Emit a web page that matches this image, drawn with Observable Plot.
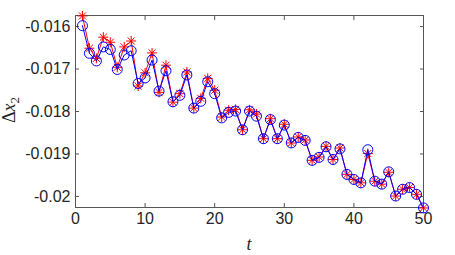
<!DOCTYPE html>
<html>
<head>
<meta charset="utf-8">
<script src="https://cdn.jsdelivr.net/npm/d3@7"></script>
<script src="https://cdn.jsdelivr.net/npm/@observablehq/plot@0.6"></script>
<style>
  html, body { margin: 0; padding: 0; background: #fff; }
  svg { display: block; }
</style>
</head>
<body>
<div id="chart"></div>
<script>
const t = [1,2,3,4,5,6,7,8,9,10,11,12,13,14,15,16,17,18,19,20,21,22,23,24,25,26,27,28,29,30,31,32,33,34,35,36,37,38,39,40,41,42,43,44,45,46,47,48,49,50];
const dx2Circle = [-0.01598,-0.01663,-0.01681,-0.01648,-0.01654,-0.01701,-0.01667,-0.01657,-0.01734,-0.01721,
  -0.01679,-0.01752,-0.01704,-0.01777,-0.01762,-0.01714,-0.01792,-0.01776,-0.01730,-0.01758,
  -0.01815,-0.01802,-0.01799,-0.01843,-0.01799,-0.01811,-0.01864,-0.01819,-0.01864,-0.01832,
  -0.01874,-0.01861,-0.01868,-0.01915,-0.01908,-0.01883,-0.01913,-0.01888,-0.01948,-0.01960,
  -0.01968,-0.01890,-0.01964,-0.01971,-0.01942,-0.01999,-0.01983,-0.01979,-0.01995,-0.02027];
const dx2Star = [-0.01575,-0.01651,-0.01675,-0.01625,-0.01637,-0.01696,-0.01648,-0.01634,-0.01740,-0.01709,
  -0.01662,-0.01755,-0.01691,-0.01778,-0.01758,-0.01707,-0.01792,-0.01769,-0.01722,-0.01750,
  -0.01813,-0.01797,-0.01795,-0.01843,-0.01796,-0.01806,-0.01864,-0.01817,-0.01864,-0.01830,
  -0.01874,-0.01860,-0.01867,-0.01915,-0.01907,-0.01882,-0.01913,-0.01886,-0.01948,-0.01960,
  -0.01968,-0.01899,-0.01964,-0.01971,-0.01943,-0.01999,-0.01983,-0.01979,-0.01995,-0.02027];
const xTicks = [0,10,20,30,40,50];
const yTicks = [-0.016,-0.017,-0.018,-0.019,-0.02];
const yTickLabels = ["-0.016","-0.017","-0.018","-0.019","-0.02"];

const circles = t.map((v, i) => ({t: v, y: dx2Circle[i]}));
const stars = t.map((v, i) => ({t: v, y: dx2Star[i]}));

// MATLAB-style 8-spoke asterisk
const asterisk8 = {
  draw(ctx, size) {
    const r = Math.sqrt(size / Math.PI);
    const d = r * Math.SQRT1_2;
    ctx.moveTo(-r, 0); ctx.lineTo(r, 0);
    ctx.moveTo(0, -r); ctx.lineTo(0, r);
    ctx.moveTo(-d, -d); ctx.lineTo(d, d);
    ctx.moveTo(-d, d); ctx.lineTo(d, -d);
  }
};

const axisColor = "#262626";
const font = "Liberation Sans, Arial, sans-serif";

const chart = Plot.plot({
  width: 455,
  height: 255,
  marginLeft: 75,
  marginRight: 32,
  marginTop: 15,
  marginBottom: 48,
  style: {fontFamily: font, fontSize: "16px", color: axisColor, background: "#fff"},
  x: {domain: [0, 50]},
  y: {domain: [-0.02026, -0.01574]},
  marks: [
    Plot.frame({stroke: "#555", strokeWidth: 1}),
    Plot.axisX(xTicks, {anchor: "bottom", tickSize: -4, tickPadding: 9, label: null, fontSize: 16, fill: axisColor, stroke: "#555"}),
    Plot.axisX(xTicks, {anchor: "top", tickSize: -4, tickFormat: () => "", label: null, stroke: "#555"}),
    Plot.axisY(yTicks, {anchor: "left", tickSize: -4, tickPadding: 9, label: null, fontSize: 16, fill: axisColor, stroke: "#555",
      tickFormat: (d) => yTickLabels[yTicks.indexOf(d)]}),
    Plot.axisY(yTicks, {anchor: "right", tickSize: -4, tickFormat: () => "", label: null, stroke: "#555"}),
    Plot.line(stars, {x: "t", y: "y", stroke: "#ff0000", strokeWidth: 1}),
    Plot.dot(stars, {x: "t", y: "y", symbol: asterisk8, r: 5, stroke: "#ff0000", strokeWidth: 1}),
    Plot.line(circles, {x: "t", y: "y", stroke: "#0000ff", strokeWidth: 1}),
    Plot.dot(circles, {x: "t", y: "y", symbol: "circle", r: 5, stroke: "#0000ff", strokeWidth: 1, fill: "none"})
  ]
});

const svg = d3.select(chart);
// x label: italic t
svg.append("text")
  .attr("x", 249).attr("y", 250)
  .attr("text-anchor", "middle")
  .attr("font-family", "Liberation Serif, DejaVu Serif, serif")
  .attr("font-style", "italic")
  .attr("font-size", 18)
  .attr("fill", axisColor)
  .text("t");
// y label: Δx₂
const yl = svg.append("text")
  .attr("transform", "translate(15,110) rotate(-90)")
  .attr("text-anchor", "middle")
  .attr("font-family", "Liberation Serif, DejaVu Serif, serif")
  .attr("font-size", 18)
  .attr("fill", axisColor);
yl.append("tspan").text("Δ");
yl.append("tspan").attr("font-style", "italic").text("x");
yl.append("tspan").attr("font-size", 13).attr("dy", 4).text("2");

document.getElementById("chart").appendChild(chart);
</script>
</body>
</html>
